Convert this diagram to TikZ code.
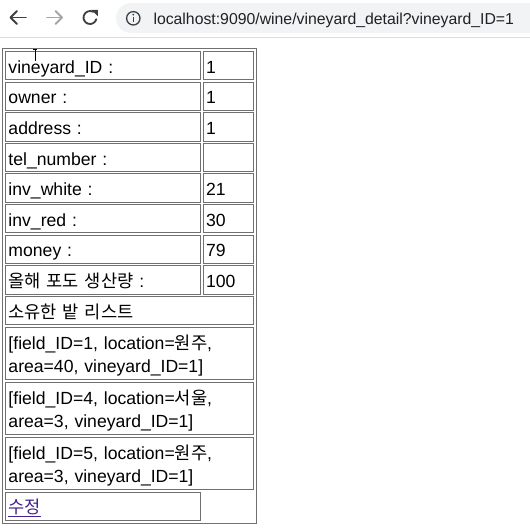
\documentclass[tikz,border=0pt]{standalone}
\usepackage{fontspec}
\setmainfont{Liberation Sans}
\newfontfamily\kr{Noto Sans CJK KR}
\usetikzlibrary{
	calc,
	fit}
\definecolor{cellgray}{RGB}{112,112,112}
\definecolor{barfill}{RGB}{241,243,244}
\definecolor{barline}{RGB}{218,220,224}
\definecolor{icondark}{RGB}{60,64,67}
\definecolor{iconlight}{RGB}{165,165,165}
\definecolor{linkcol}{RGB}{68,36,140}

\begin{document}
\begin{tikzpicture}[x=1pt,y=-1pt,
  keycell/.style={draw=cellgray,line width=1pt,anchor=north west,inner xsep=3pt,inner ysep=1pt,
    text width=189pt,align=left,minimum height=28.3pt,text height=17pt,text depth=1.9pt,
    font=\fontsize{17.6}{23.3}\selectfont},
  valcell/.style={keycell,text width=44pt},
  widecell/.style={keycell,text width=241.5pt},
  fieldcell/.style={widecell,minimum height=52pt,text height=20pt,text depth=28.6pt},
  icon/.style={line width=1.8pt,line cap=round,line join=round}]

  \useasboundingbox (0,0) rectangle (530,528);
  \fill[white] (0,0) rectangle (530,528);

  % Address bar
  \fill[barfill] (131,3) -- (530,3) -- (530,33) -- (131,33) arc (90:270:15) -- cycle;
  \draw[barline,line width=1pt] (0,37.7) -- (530,37.7);
  \draw[icon,icondark] (26,17.5) -- (10.5,17.5);
  \draw[icon,icondark] (17,11) -- (10.5,17.5) -- (17,24);
  \draw[icon,iconlight] (47,17.5) -- (62,17.5);
  \draw[icon,iconlight] (55.5,11) -- (62,17.5) -- (55.5,24);
  \draw[icon,icondark] (90,17.5) ++(15:6.5) arc (15:300:6.5);
  \fill[icondark] (97.8,9.8) -- (97.8,16.2) -- (91.4,9.8) -- cycle;
  \draw[icondark,line width=1.3pt] (133.3,18.3) circle (6.7);
  \draw[icondark,line width=1.5pt] (133.3,17.3) -- (133.3,22);
  \fill[icondark] (133.3,14.6) circle (1);
  \node[anchor=base west,inner sep=0pt,text={rgb,255:red,32;green,33;blue,36},
    font=\fontsize{15.8}{18}\selectfont] (U) at (153.3,24.3)
    {localhost:9090/wine/vineyard\_detail?vineyard\_ID=1};

  % Table
  \node[keycell] (K1) at (5,51) {vineyard\_ID :};
  \node[valcell] (V1) at (202.5,51) {1};
  \node[keycell] (K2) at (5,81.6) {owner :};
  \node[valcell] (V2) at (202.5,81.6) {1};
  \node[keycell] (K3) at (5,112.2) {address :};
  \node[valcell] (V3) at (202.5,112.2) {1};
  \node[keycell] (K4) at (5,142.8) {tel\_number :};
  \node[valcell] (V4) at (202.5,142.8) {};
  \node[keycell] (K5) at (5,173.4) {inv\_white :};
  \node[valcell] (V5) at (202.5,173.4) {21};
  \node[keycell] (K6) at (5,204) {inv\_red :};
  \node[valcell] (V6) at (202.5,204) {30};
  \node[keycell] (K7) at (5,234.6) {money :};
  \node[valcell] (V7) at (202.5,234.6) {79};
  \node[keycell] (K8) at (5,265.2) {{\kr 올해 포도 생산량} :};
  \node[valcell] (V8) at (202.5,265.2) {100};
  \node[widecell] (L) at (5,295.8) {\kr 소유한 밭 리스트};
  \node[fieldcell] (F1) at (5,327) {[field\_ID=1, location={\kr 원주},\\
    area=40, vineyard\_ID=1]};
  \node[fieldcell] (F2) at (5,382) {[field\_ID=4, location={\kr 서울},\\
    area=3, vineyard\_ID=1]};
  \node[fieldcell] (F3) at (5,437) {[field\_ID=5, location={\kr 원주},\\
    area=3, vineyard\_ID=1]};
  \node[keycell,minimum height=27.5pt] (E) at (5,492) {\color{linkcol}\kr\underline{수정}};
  \node[draw=cellgray,line width=1pt,inner sep=2.5pt,fit=(K1)(V1)(F3)(E)] (T) {};

  % Cursor
  \draw[black,line width=0.8pt] (35,49.5) -- (35,61);
  \draw[black,line width=0.7pt] (33.2,49.5) -- (36.8,49.5);

\end{tikzpicture}
\end{document}
